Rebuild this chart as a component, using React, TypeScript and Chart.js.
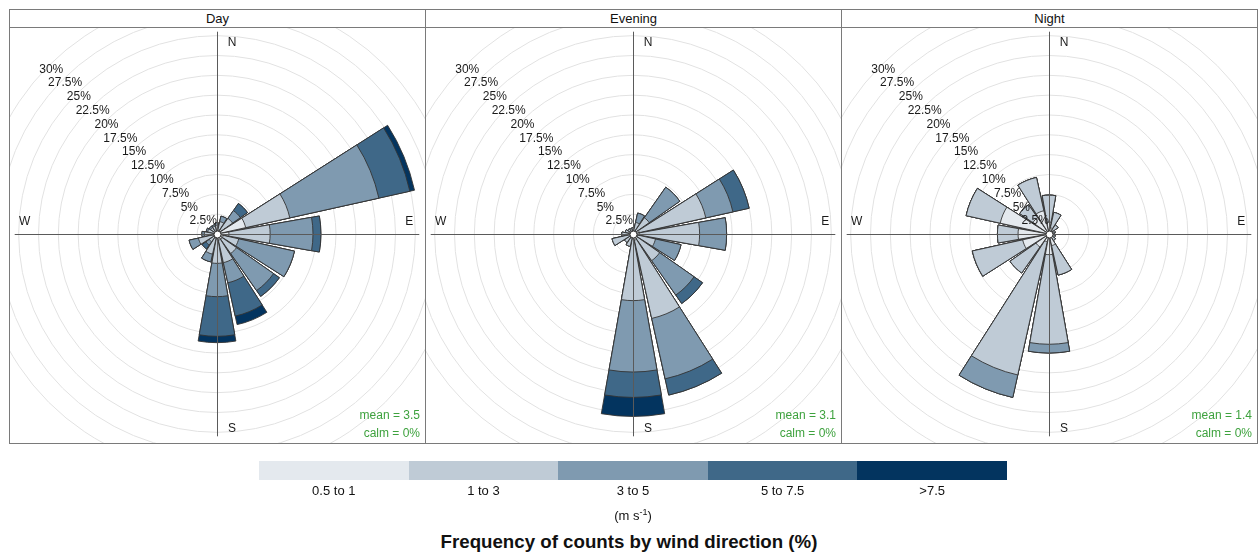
import React, { useEffect, useRef } from "react";
import { Chart, registerables } from "chart.js";

Chart.register(...registerables);

// ---------- data ----------
const directions = ["N", "NNE", "NE", "ENE", "E", "ESE", "SE", "SSE", "S", "SSW", "SW", "WSW", "W", "WNW", "NW", "NNW"];
const speedBins = ["0.5 to 1", "1 to 3", "3 to 5", "5 to 7.5", ">7.5"];
const binColors = ["#e4e9ee", "#bfcbd6", "#7f9ab0", "#3f6888", "#03345f"];
const panelNames = ["Day", "Evening", "Night"];
const meanSpeeds = ["3.5", "3.1", "1.4"];
const calmPercent = ["0%", "0%", "0%"];
const gridStep = 2.5;
const gridMax = 30;

// frequency (%) by direction for each speed bin
const day_05to1 = [0.3, 0.5, 0.7, 3.7, 1.5, 0.8, 0.8, 0.8, 0.6, 0.5, 0.4, 0.5, 0.4, 0.3, 0.3, 0.3];
const day_1to3 = [0.8, 1.1, 1.7, 5.7, 5.2, 2.0, 2.2, 2.9, 3.1, 2.1, 0.8, 1.9, 1.2, 0.9, 0.7, 0.7];
const day_3to5 = [0.3, 0.7, 1.2, 11.5, 5.4, 7.2, 5.7, 2.6, 4.2, 1.0, 0.5, 1.2, 0.3, 0.2, 0.2, 0.2];
const day_5to75 = [0, 0, 1.1, 4.0, 1.0, 0, 0.9, 4.3, 5.0, 0, 0.6, 0, 0, 0, 0, 0];
const day_gt75 = [0, 0, 0, 0.6, 0, 0, 0, 1.1, 0.8, 0, 0, 0, 0, 0, 0, 0];

const eve_05to1 = [0.3, 0.4, 0.5, 0.8, 0.8, 0.6, 0.7, 0.8, 0.6, 0.4, 0.4, 0.4, 0.5, 0.5, 0.3, 0.3];
const eve_1to3 = [0.5, 1.1, 2.0, 8.6, 7.6, 2.3, 3.4, 10.1, 7.8, 1.2, 0.9, 2.3, 0.9, 0.5, 0.5, 0.4];
const eve_3to5 = [0, 1.2, 4.7, 3.5, 3.4, 3.3, 5.3, 7.8, 9.0, 0, 0, 0, 0, 0, 0, 0];
const eve_5to75 = [0, 0, 0, 2.1, 0, 0, 1.3, 2.1, 3.2, 0, 0, 0, 0, 0, 0, 0];
const eve_gt75 = [0, 0, 0, 0, 0, 0, 0, 0, 2.4, 0, 0, 0, 0, 0, 0, 0];

const night_05to1 = [1.5, 0.8, 0.6, 0.4, 0.3, 0.3, 0.4, 1.5, 2.6, 1.0, 2.0, 3.4, 3.9, 6.3, 2.5, 3.0];
const night_1to3 = [3.4, 2.0, 0.8, 0.4, 0.4, 0.5, 0.6, 3.8, 11.3, 17.2, 4.0, 6.5, 2.6, 4.4, 2.0, 4.3];
const night_3to5 = [0, 0, 0, 0, 0, 0, 0, 0, 1.1, 2.9, 0, 0, 0, 0, 0, 0];
const night_5to75 = [0, 0, 0, 0, 0, 0, 0, 0, 0, 0, 0, 0, 0, 0, 0, 0];
const night_gt75 = [0, 0, 0, 0, 0, 0, 0, 0, 0, 0, 0, 0, 0, 0, 0, 0];

const panelBins = [
  [day_05to1, day_1to3, day_3to5, day_5to75, day_gt75],
  [eve_05to1, eve_1to3, eve_3to5, eve_5to75, eve_gt75],
  [night_05to1, night_1to3, night_3to5, night_5to75, night_gt75],
];

const PETAL_DEG = 20;
const SECTOR_DEG = 360 / directions.length;
const FONT = "'Liberation Sans', Arial, Helvetica, sans-serif";

const roseDecor = {
  id: "roseDecor",
  afterDatasetsDraw(chart: any) {
    const r = chart.scales.r;
    const ctx = chart.ctx as CanvasRenderingContext2D;
    const cx = r.xCenter;
    const cy = r.yCenter;
    const axisLen = r.getDistanceFromCenterForValue(25.5);
    ctx.save();
    // cross axis
    ctx.strokeStyle = "#5a5a5a";
    ctx.lineWidth = 1;
    ctx.beginPath();
    ctx.moveTo(cx - axisLen, cy + 0.5);
    ctx.lineTo(cx + axisLen, cy + 0.5);
    ctx.moveTo(cx + 0.5, cy - axisLen);
    ctx.lineTo(cx + 0.5, cy + axisLen);
    ctx.stroke();
    // centre hole
    ctx.beginPath();
    ctx.arc(cx + 0.5, cy + 0.5, 3.5, 0, Math.PI * 2);
    ctx.fillStyle = "#ffffff";
    ctx.fill();
    ctx.strokeStyle = "#333";
    ctx.stroke();
    // percentage labels along NW
    ctx.fillStyle = "#1a1a1a";
    ctx.font = `12px ${FONT}`;
    ctx.textAlign = "center";
    ctx.textBaseline = "middle";
    r.ticks.forEach((t: any) => {
      if (t.value <= 0) return;
      const d = r.getDistanceFromCenterForValue(t.value) * 0.985;
      ctx.fillText(`${t.value}%`, cx - d * Math.SQRT1_2, cy - d * Math.SQRT1_2 + 1);
    });
    // compass labels
    ctx.fillText("N", cx + 15, cy - axisLen + 11);
    ctx.fillText("S", cx + 15, cy + axisLen - 8);
    ctx.fillText("E", cx + axisLen - 10, cy - 12);
    ctx.fillText("W", cx - axisLen + 10, cy - 12);
    ctx.restore();
  },
};

function RosePanel({ index, left }: { index: number; left: number }) {
  const ref = useRef<HTMLCanvasElement>(null);
  useEffect(() => {
    const bins = panelBins[index];
    const labels: string[] = [];
    directions.forEach((d) => {
      labels.push(d);
      labels.push("");
    });
    const datasets = speedBins.map((name, k) => {
      const data: number[] = [];
      directions.forEach((_, i) => {
        let c = 0;
        for (let j = 0; j <= k; j++) c += bins[j][i];
        data.push(c);
        data.push(0);
      });
      return {
        label: name,
        data,
        backgroundColor: (ctx: any) => (ctx.dataIndex % 2 === 0 ? binColors[k] : "rgba(0,0,0,0)"),
        borderColor: "#333333",
        borderWidth: (ctx: any) => (ctx.dataIndex % 2 === 0 ? 0.9 : 0),
        angle: (ctx: any) => (ctx.dataIndex % 2 === 0 ? PETAL_DEG : SECTOR_DEG - PETAL_DEG),
      };
    });
    const chart = new Chart(ref.current as HTMLCanvasElement, {
      type: "polarArea",
      data: { labels, datasets: datasets as any },
      options: {
        responsive: false,
        animation: false,
        events: [],
        layout: { padding: 0 },
        plugins: { legend: { display: false }, tooltip: { enabled: false } },
        scales: {
          r: {
            min: 0,
            max: gridMax,
            startAngle: -PETAL_DEG / 2,
            ticks: { display: false, stepSize: gridStep },
            grid: { color: "#e2e2e2", lineWidth: 1, circular: true },
            angleLines: { display: false },
            pointLabels: { display: false },
          },
        },
      } as any,
      plugins: [roseDecor],
    });
    return () => chart.destroy();
  }, [index]);

  return (
    <div
      style={{
        position: "absolute",
        left,
        top: 9,
        width: 417,
        height: 435,
        border: "1px solid #7a7a7a",
        boxSizing: "border-box",
        background: "#fff",
      }}
    >
      <div
        style={{
          height: 17,
          borderBottom: "1px solid #7a7a7a",
          textAlign: "center",
          font: `13px ${FONT}`,
          lineHeight: "18px",
          color: "#111",
        }}
      >
        {panelNames[index]}
      </div>
      <div style={{ position: "relative", height: 415, overflow: "hidden" }}>
        <canvas ref={ref} width={476} height={476} style={{ position: "absolute", left: -31, top: -32 }} />
        <div
          style={{
            position: "absolute",
            right: 5,
            top: 378,
            textAlign: "right",
            font: `12px ${FONT}`,
            lineHeight: "18px",
            color: "#3ea23e",
          }}
        >
          <div>mean = {meanSpeeds[index]}</div>
          <div>calm = {calmPercent[index]}</div>
        </div>
      </div>
    </div>
  );
}

export default function App() {
  const legendLeft = 259;
  const segW = 149.6;
  return (
    <div style={{ position: "absolute", left: 0, top: 0, width: 1258, height: 553, background: "#fff", overflow: "hidden" }}>
      <RosePanel index={0} left={9} />
      <RosePanel index={1} left={425} />
      <RosePanel index={2} left={841} />
      {speedBins.map((b, k) => (
        <React.Fragment key={b}>
          <div
            style={{
              position: "absolute",
              left: legendLeft + k * segW,
              top: 461,
              width: segW + 0.5,
              height: 19,
              background: binColors[k],
            }}
          />
          <div
            style={{
              position: "absolute",
              left: legendLeft + k * segW,
              top: 483,
              width: segW,
              textAlign: "center",
              font: `13px 'Liberation Sans Narrow', ${FONT}`,
              lineHeight: "16px",
              color: "#111",
            }}
          >
            {b}
          </div>
        </React.Fragment>
      ))}
      <div
        style={{
          position: "absolute",
          left: legendLeft,
          top: 508,
          width: segW * 5,
          textAlign: "center",
          font: `13px 'Liberation Sans Narrow', ${FONT}`,
          lineHeight: "16px",
          color: "#111",
        }}
      >
        (m s<sup style={{ fontSize: 9, lineHeight: 0 }}>-1</sup>)
      </div>
      <div
        style={{
          position: "absolute",
          left: 0,
          top: 531,
          width: 1258,
          textAlign: "center",
          font: `bold 18.7px ${FONT}`,
          lineHeight: "22px",
          color: "#111",
        }}
      >
        Frequency of counts by wind direction (%)
      </div>
    </div>
  );
}
